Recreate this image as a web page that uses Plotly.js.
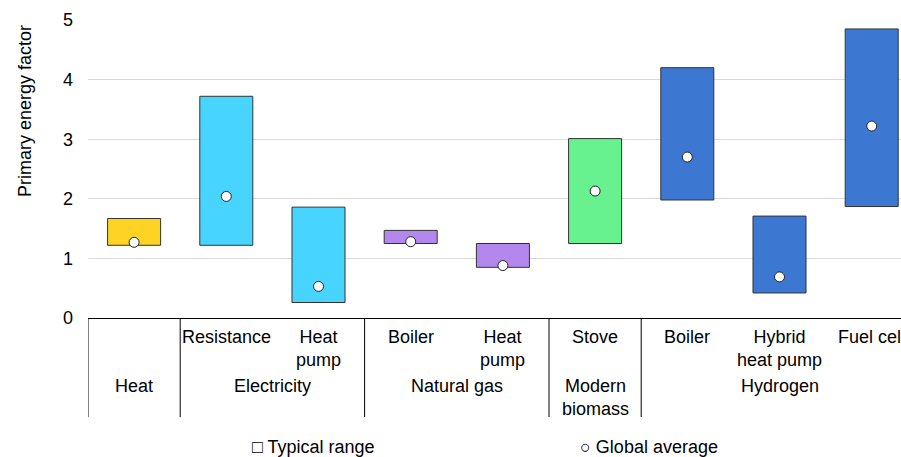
<!DOCTYPE html>
<html>
<head>
<meta charset="utf-8">
<script src="https://cdn.plot.ly/plotly-3.0.1.min.js"></script>
<style>html,body{margin:0;padding:0;background:#fff;}#chart{width:901px;height:457px;}</style>
</head>
<body>
<div id="chart"></div>
<script>
// ---- Data ----
const subLabels = ['', 'Resistance', 'Heat<br>pump', 'Boiler', 'Heat<br>pump', 'Stove', 'Boiler', 'Hybrid<br>heat pump', 'Fuel cell'];
const groupLabels = ['Heat', 'Electricity', 'Natural gas', 'Modern<br>biomass', 'Hydrogen'];
const groupStart = [0, 1, 3, 5, 6];
const groupEnd = [0, 2, 4, 5, 8];
const groupColors = ['#FFD324', '#47D4FF', '#B387EE', '#67F28F', '#3C78D2'];
const rangeLow = [1.22, 1.22, 0.26, 1.25, 0.85, 1.25, 1.98, 0.42, 1.87];
const rangeHigh = [1.67, 3.72, 1.86, 1.47, 1.25, 3.01, 4.20, 1.71, 4.85];
const globalAvg = [1.27, 2.04, 0.53, 1.28, 0.88, 2.13, 2.70, 0.69, 3.22];
const yTicks = [0, 1, 2, 3, 4, 5];

// ---- Build ----
const n = rangeLow.length;
const xs = [...Array(n).keys()];
const barColors = xs.map(i => {
  const g = groupStart.findIndex((s, k) => i >= s && i <= groupEnd[k]);
  return groupColors[g];
});
const FONT = 'Liberation Sans, Arial, sans-serif';

const traces = [
  {
    type: 'bar', x: xs, base: rangeLow,
    y: rangeHigh.map((h, i) => h - rangeLow[i]),
    width: 0.575,
    marker: {color: barColors, line: {color: '#333333', width: 1}},
    showlegend: false, hoverinfo: 'skip'
  },
  {
    type: 'scatter', mode: 'markers', x: xs, y: globalAvg,
    marker: {color: '#ffffff', size: 10, line: {color: '#222222', width: 1}},
    showlegend: false, cliponaxis: false
  }
];

const H = 457, W = 901, L = 88, T = 20, B = 139;
const plotH = H - T - B;
const py = px => (H - B - px) / plotH; // pixel y -> paper y

const shapes = [];
const bounds = [-0.5].concat(groupEnd.map(e => e + 0.5));
bounds.forEach(b => {
  if (b > 8) return;
  shapes.push({type: 'line', xref: 'x', yref: 'paper', x0: b, x1: b, y0: 0, y1: py(417),
    line: {color: '#000000', width: 1}});
});

const annotations = [];
subLabels.forEach((t, i) => {
  if (!t) return;
  annotations.push({xref: 'x', yref: 'paper', x: i, y: py(325), yanchor: 'top', xanchor: 'center',
    text: t, showarrow: false, font: {family: FONT, size: 18, color: '#000'}});
});
groupLabels.forEach((t, k) => {
  annotations.push({xref: 'x', yref: 'paper', x: (groupStart[k] + groupEnd[k]) / 2, y: py(374), yanchor: 'top',
    xanchor: 'center', text: t, showarrow: false, font: {family: FONT, size: 18, color: '#000'}});
});
annotations.push({xref: 'paper', yref: 'paper', x: (25 - L) / (W - L), y: py(111), textangle: -90,
  xanchor: 'center', yanchor: 'middle', text: 'Primary energy factor', showarrow: false,
  font: {family: FONT, size: 18, color: '#000'}});
annotations.push({xref: 'paper', yref: 'paper', x: (250 - L) / (W - L), y: py(447), xanchor: 'left', yanchor: 'middle',
  text: '□ Typical range', showarrow: false, font: {family: FONT, size: 18, color: '#000'}});
annotations.push({xref: 'paper', yref: 'paper', x: (578 - L) / (W - L), y: py(447), xanchor: 'left', yanchor: 'middle',
  text: '○ Global average', showarrow: false, font: {family: FONT, size: 18, color: '#000'}});

const layout = {
  width: W, height: H,
  margin: {l: L, r: 0, t: T, b: B},
  paper_bgcolor: '#ffffff', plot_bgcolor: '#ffffff',
  font: {family: FONT, size: 18, color: '#000'},
  xaxis: {range: [-0.5, -0.5 + (W - L) / 92.2], showticklabels: false, showgrid: false, zeroline: false,
    showline: true, linecolor: '#000000', linewidth: 1, ticks: ''},
  yaxis: {range: [0, 5], tickvals: yTicks, ticktext: yTicks.map(String), showgrid: true, gridcolor: '#D9D9D9',
    gridwidth: 1, zeroline: false, showline: false, ticks: '', ticklabelstandoff: 14,
    tickfont: {family: FONT, size: 18, color: '#000'}},
  shapes: shapes, annotations: annotations, showlegend: false, bargap: 0
};

Plotly.newPlot('chart', traces, layout, {staticPlot: true, displayModeBar: false});
</script>
</body>
</html>
